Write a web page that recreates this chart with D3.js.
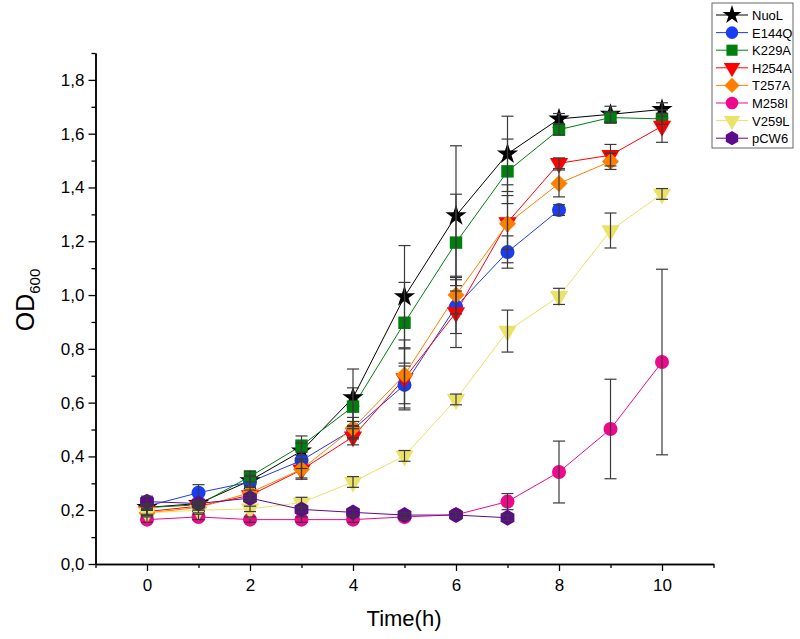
<!DOCTYPE html>
<html>
<head>
<meta charset="utf-8">
<script src="https://cdn.jsdelivr.net/npm/d3@7"></script>
<style>
  html, body { margin: 0; padding: 0; background: #fff; }
  svg { display: block; font-family: "Liberation Sans", Arial, sans-serif; }
</style>
</head>
<body>
<svg id="chart" width="800" height="639"></svg>
<script>
// ---- data ----
const seriesNames = ["NuoL", "E144Q", "K229A", "H254A", "T257A", "M258I", "V259L", "pCW6"];
const timeH = [0, 1, 2, 3, 4, 5, 6, 7, 8, 9, 10];

const nuoL   = [0.21, 0.225, 0.31, 0.42, 0.618, 0.994, 1.295, 1.525, 1.655, 1.672, 1.69];
const e144q  = [0.215, 0.265, 0.305, 0.385, 0.50, 0.666, 0.957, 1.16, 1.316];
const k229a  = [0.21, 0.22, 0.325, 0.44, 0.585, 0.897, 1.195, 1.46, 1.615, 1.66, 1.655];
const h254a  = [0.195, 0.215, 0.255, 0.35, 0.473, 0.69, 0.935, 1.27, 1.49, 1.52, 1.628];
const t257a  = [0.19, 0.21, 0.265, 0.352, 0.505, 0.703, 1.0, 1.265, 1.415, 1.497];
const m258i  = [0.165, 0.175, 0.165, 0.165, 0.165, 0.175, 0.183, 0.232, 0.342, 0.502, 0.751];
const v259l  = [0.19, 0.2, 0.205, 0.228, 0.305, 0.402, 0.612, 0.866, 0.995, 1.24, 1.376];
const pcw6   = [0.232, 0.225, 0.245, 0.203, 0.192, 0.182, 0.182, 0.172];

const nuoLErr  = [0.01, 0.01, 0.02, 0.03, 0.107, 0.19, 0.26, 0.14, 0.02, 0.03, 0.025];
const e144qErr = [0.01, 0.03, 0.02, 0.03, 0.03, 0.07, 0.10, 0.06, 0.02];
const k229aErr = [0.01, 0.01, 0.02, 0.036, 0.07, 0.15, 0.18, 0.12, 0.02, 0.02, 0.02];
const h254aErr = [0.01, 0.01, 0.02, 0.03, 0.03, 0.11, 0.13, 0.10, 0.02, 0.04, 0.06];
const t257aErr = [0.01, 0.01, 0.02, 0.037, 0.04, 0.13, 0.07, 0.145, 0.05, 0.03];
const m258iErr = [0.01, 0.01, 0.01, 0.01, 0.01, 0.01, 0.01, 0.03, 0.115, 0.185, 0.345];
const v259lErr = [0.01, 0.01, 0.01, 0.02, 0.02, 0.02, 0.02, 0.078, 0.03, 0.065, 0.02];
const pcw6Err  = [0.02, 0.01, 0.01, 0.01, 0.01, 0.01, 0.01, 0.01];

const yTickLabels = ["0,0", "0,2", "0,4", "0,6", "0,8", "1,0", "1,2", "1,4", "1,6", "1,8"];
const xTickLabels = ["0", "2", "4", "6", "8", "10"];

const seriesValues = [nuoL, e144q, k229a, h254a, t257a, m258i, v259l, pcw6];
const seriesErrors = [nuoLErr, e144qErr, k229aErr, h254aErr, t257aErr, m258iErr, v259lErr, pcw6Err];

// ---- styles ----
const colors = ["#000000", "#1a3cf5", "#007f0e", "#ff0000", "#ff8000", "#f0088c", "#ebe26a", "#5e0a8c"];

const hexagon = {
  draw(context, size) {
    const r = Math.sqrt(size / (1.5 * Math.sqrt(3)));
    for (let i = 0; i < 6; i++) {
      const a = Math.PI / 6 + i * Math.PI / 3;
      const px = r * Math.cos(a), py = r * Math.sin(a);
      if (i === 0) context.moveTo(px, py); else context.lineTo(px, py);
    }
    context.closePath();
  }
};
const shapes = [
  { type: d3.symbolStar, size: 140, rot: 0 },
  { type: d3.symbolCircle, size: 155, rot: 0 },
  { type: d3.symbolSquare, size: 155, rot: 0 },
  { type: d3.symbolTriangle, size: 145, rot: 180 },
  { type: d3.symbolSquare, size: 145, rot: 45 },
  { type: d3.symbolCircle, size: 155, rot: 0 },
  { type: d3.symbolTriangle, size: 145, rot: 180 },
  { type: hexagon, size: 165, rot: 0 }
];

// ---- layout ----
const svg = d3.select("#chart");
const x = d3.scaleLinear().domain([-1, 11]).range([95.5, 713.5]);
const y = d3.scaleLinear().domain([0, 1.9]).range([564, 53]);

const series = seriesNames.map((name, i) => ({
  name, color: colors[i], shape: shapes[i],
  pts: seriesValues[i].map((v, j) => ({ t: timeH[j], v, e: seriesErrors[i][j] }))
}));

const plot = svg.append("g");

// lines
const line = d3.line().x(d => x(d.t)).y(d => y(d.v));
plot.selectAll("path.ln").data(series).join("path")
  .attr("class", "ln")
  .attr("d", s => line(s.pts))
  .attr("fill", "none")
  .attr("stroke", s => s.color)
  .attr("stroke-width", 1);

// markers
series.forEach(s => {
  const sym = d3.symbol().type(s.shape.type).size(s.shape.size);
  plot.append("g").selectAll("path").data(s.pts).join("path")
    .attr("d", sym)
    .attr("transform", d => `translate(${x(d.t)},${y(d.v)}) rotate(${s.shape.rot})`)
    .attr("fill", s.color)
    .attr("stroke", "none");
});

// error bars
const capW = 6;
series.forEach(s => {
  const g = plot.append("g").attr("stroke", "#3a3a3a").attr("stroke-width", 1.2).attr("fill", "none");
  s.pts.forEach(d => {
    const cx = x(d.t), top = y(d.v + d.e), bot = y(d.v - d.e);
    g.append("line").attr("x1", cx).attr("x2", cx).attr("y1", top).attr("y2", bot);
    g.append("line").attr("x1", cx - capW).attr("x2", cx + capW).attr("y1", top).attr("y2", top);
    g.append("line").attr("x1", cx - capW).attr("x2", cx + capW).attr("y1", bot).attr("y2", bot);
  });
});

// axes
const yAxis = d3.axisLeft(y)
  .tickValues(d3.range(0, 1.81, 0.2))
  .tickFormat((d, i) => yTickLabels[i])
  .tickSize(7).tickSizeOuter(0);
const yMinor = d3.axisLeft(y).tickValues(d3.range(0.1, 1.91, 0.2)).tickFormat("").tickSize(4).tickSizeOuter(0);
const xAxis = d3.axisBottom(x)
  .tickValues([0, 2, 4, 6, 8, 10])
  .tickFormat((d, i) => xTickLabels[i])
  .tickSize(7).tickSizeOuter(0);
const xMinor = d3.axisBottom(x).tickValues([-1, 1, 3, 5, 7, 9, 11]).tickFormat("").tickSize(4).tickSizeOuter(0);

function styleAxis(g) {
  g.select(".domain").attr("stroke", "#000").attr("stroke-width", 1.5);
  g.selectAll(".tick line").attr("stroke", "#000").attr("stroke-width", 1.3);
  g.selectAll(".tick text").attr("fill", "#000").style("font-size", "17px")
    .style("font-family", "'Liberation Sans', Arial, sans-serif");
}
svg.append("g").attr("transform", "translate(95.5,0)").call(yAxis).call(styleAxis)
  .selectAll(".tick text").attr("x", -11);
svg.append("g").attr("transform", "translate(95.5,0)").call(yMinor).call(styleAxis);
svg.append("g").attr("transform", "translate(0,564)").call(xAxis).call(styleAxis)
  .selectAll(".tick text").attr("y", 15);
svg.append("g").attr("transform", "translate(0,564)").call(xMinor).call(styleAxis);

// axis titles
svg.append("text")
  .attr("x", 404).attr("y", 626)
  .attr("text-anchor", "middle")
  .style("font-size", "22px")
  .text("Time(h)");

const yt = svg.append("text")
  .attr("transform", "translate(34,300) rotate(-90)")
  .attr("text-anchor", "middle")
  .style("font-size", "25px");
yt.append("tspan").text("OD");
yt.append("tspan").attr("dy", 6).style("font-size", "15px").text("600");

// legend
const lg = svg.append("g").attr("transform", "translate(712,3)");
lg.append("rect").attr("x", 0).attr("y", 0).attr("width", 81).attr("height", 145)
  .attr("fill", "#fff").attr("stroke", "#666").attr("stroke-width", 1);
series.forEach((s, i) => {
  const yy = 12 + i * 17.6;
  const row = lg.append("g").attr("transform", `translate(0,${yy})`);
  row.append("line").attr("x1", 4).attr("x2", 36).attr("y1", 0).attr("y2", 0)
    .attr("stroke", s.color).attr("stroke-width", 1);
  row.append("path")
    .attr("d", d3.symbol().type(s.shape.type).size(s.shape.size * 0.8))
    .attr("transform", `translate(20,0) rotate(${s.shape.rot})`)
    .attr("fill", s.color);
  row.append("text").attr("x", 40).attr("y", 5).style("font-size", "13px").text(s.name);
});
</script>
</body>
</html>
